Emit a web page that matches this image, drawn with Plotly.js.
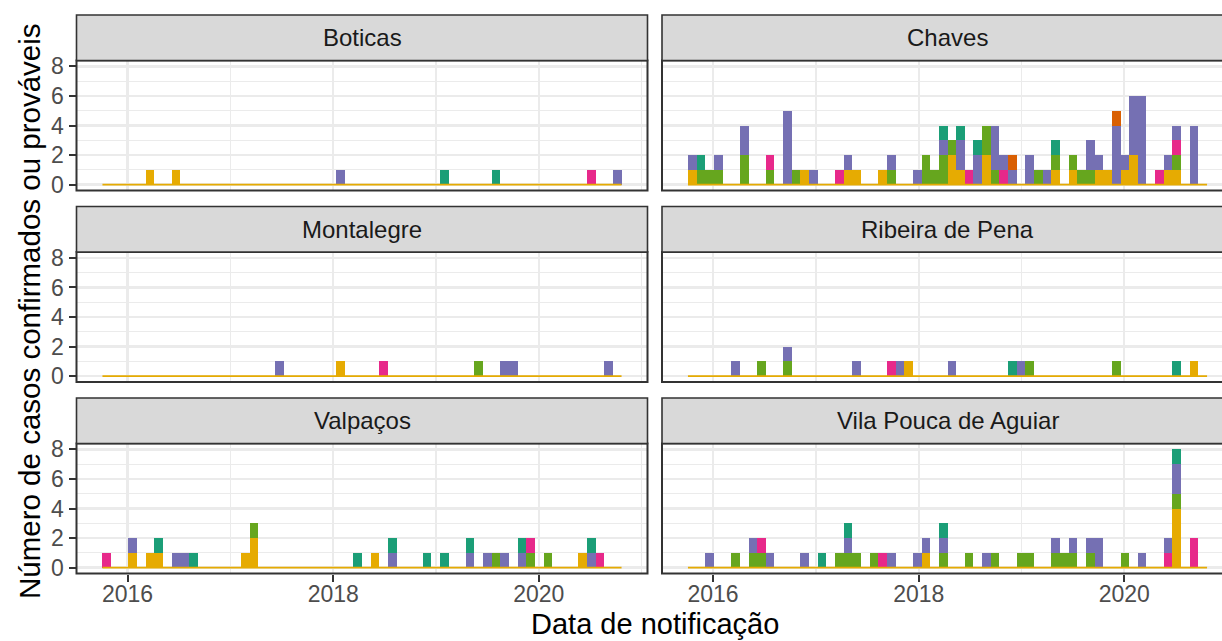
<!DOCTYPE html>
<html><head><meta charset="utf-8">
<script src="https://cdn.plot.ly/plotly-3.0.1.min.js"></script>
<style>html,body{margin:0;padding:0;background:#fff}#chart{width:1222px;height:641px}</style>
</head><body><div id="chart"></div>
<script>
// Histogram bins (60 equal-width bins over the notification period)
const binFirstStart = "2015-10-04";
const binLastEnd = "2020-10-21";
const binCount = 60;

// Stack order bottom -> top
const categories = ["Categoria 6", "Categoria 5", "Categoria 4", "Categoria 3", "Categoria 2", "Categoria 1"];
const categoryColors = ["#E6AB02", "#66A61E", "#E7298A", "#7570B3", "#D95F02", "#1B9E77"];

const municipalities = ["Boticas", "Chaves", "Montalegre", "Ribeira de Pena", "Valpaços", "Vila Pouca de Aguiar"];

// rows: [bin index, cat6(yellow), cat5(green), cat4(pink), cat3(purple), cat2(orange), cat1(teal)]
const boticas = [[5,1,0,0,0,0,0],[8,1,0,0,0,0,0],[27,0,0,0,1,0,0],[39,0,0,0,0,0,1],[45,0,0,0,0,0,1],[56,0,0,1,0,0,0],[59,0,0,0,1,0,0]];
const chaves = [[0,1,0,0,1,0,0],[1,0,1,0,0,0,1],[2,0,1,0,0,0,0],[3,0,1,0,1,0,0],[6,0,2,0,2,0,0],[9,0,1,1,0,0,0],[11,0,0,0,5,0,0],[12,0,1,0,0,0,0],[13,1,0,0,0,0,0],[14,0,0,0,1,0,0],[17,0,0,1,0,0,0],[18,1,0,0,1,0,0],[19,1,0,0,0,0,0],[22,1,0,0,0,0,0],[23,0,1,0,1,0,0],[26,0,0,0,1,0,0],[27,0,2,0,0,0,0],[28,0,1,0,0,0,0],[29,0,2,0,1,0,1],[30,2,1,0,0,0,0],[31,1,0,0,2,0,1],[32,0,0,1,0,0,0],[33,0,0,0,2,0,1],[34,2,2,0,0,0,0],[35,0,1,0,3,0,0],[36,0,0,1,1,0,0],[37,0,0,0,1,1,0],[39,0,0,0,2,0,0],[40,0,1,0,0,0,0],[41,0,0,0,1,0,0],[42,1,1,0,0,0,1],[44,1,1,0,0,0,0],[45,0,1,0,0,0,0],[46,0,1,0,2,0,0],[47,1,0,0,1,0,0],[48,1,0,0,0,0,0],[49,0,0,0,4,1,0],[50,1,0,0,1,0,0],[51,2,0,0,4,0,0],[52,0,0,0,6,0,0],[54,0,0,1,0,0,0],[55,1,0,0,1,0,0],[56,1,1,1,1,0,0],[58,0,0,0,4,0,0]];
const montalegre = [[20,0,0,0,1,0,0],[27,1,0,0,0,0,0],[32,0,0,1,0,0,0],[43,0,1,0,0,0,0],[46,0,0,0,1,0,0],[47,0,0,0,1,0,0],[58,0,0,0,1,0,0]];
const ribeiraDePena = [[5,0,0,0,1,0,0],[8,0,1,0,0,0,0],[11,0,1,0,1,0,0],[19,0,0,0,1,0,0],[23,0,0,1,0,0,0],[24,0,0,0,1,0,0],[25,1,0,0,0,0,0],[30,0,0,0,1,0,0],[37,0,0,0,0,0,1],[38,0,0,0,1,0,0],[39,0,1,0,0,0,0],[49,0,1,0,0,0,0],[56,0,0,0,0,0,1],[58,1,0,0,0,0,0]];
const valpacos = [[0,0,0,1,0,0,0],[3,1,0,0,1,0,0],[5,1,0,0,0,0,0],[6,1,0,0,0,0,1],[8,0,0,0,1,0,0],[9,0,0,0,1,0,0],[10,0,0,0,0,0,1],[16,1,0,0,0,0,0],[17,2,1,0,0,0,0],[29,0,0,0,0,0,1],[31,1,0,0,0,0,0],[33,0,0,0,1,0,1],[37,0,0,0,0,0,1],[39,0,0,0,0,0,1],[42,0,0,0,1,0,1],[44,0,0,0,1,0,0],[45,0,1,0,0,0,0],[46,0,0,0,1,0,0],[48,0,0,0,1,0,1],[49,0,1,1,0,0,0],[51,0,1,0,0,0,0],[55,1,0,0,0,0,0],[56,0,0,0,1,0,1],[57,0,0,1,0,0,0]];
const vilaPoucaDeAguiar = [[2,0,0,0,1,0,0],[5,0,1,0,0,0,0],[7,0,1,0,1,0,0],[8,0,1,1,0,0,0],[9,0,0,0,1,0,0],[13,0,0,0,1,0,0],[15,0,0,0,0,0,1],[17,0,1,0,0,0,0],[18,0,1,0,1,0,1],[19,0,1,0,0,0,0],[21,0,1,0,0,0,0],[22,0,0,1,0,0,0],[23,0,0,0,1,0,0],[26,0,0,0,1,0,0],[27,1,0,0,1,0,0],[29,0,1,0,1,0,1],[32,0,1,0,0,0,0],[34,0,0,0,1,0,0],[35,0,1,0,0,0,0],[38,0,1,0,0,0,0],[39,0,1,0,0,0,0],[42,0,1,0,1,0,0],[43,0,1,0,0,0,0],[44,0,1,0,1,0,0],[46,0,1,0,1,0,0],[47,0,0,0,2,0,0],[50,0,1,0,0,0,0],[52,0,0,0,1,0,0],[55,0,0,1,1,0,0],[56,4,1,0,2,0,1],[58,0,0,2,0,0,0]];

const yTickVals = [0, 2, 4, 6, 8];
const xTitle = "Data de notificação";
const yTitle = "Número de casos confirmados ou prováveis";

// ---------- layout geometry (px) ----------
const W = 1222, H = 641;
const colX = [[76.5, 647.5], [662, 1233]];
const rowY = [[60.5, 190.5], [252, 382], [443.5, 573.5]];
const stripH = 45.5;
const FONT = "Liberation Sans, Arial, Helvetica, sans-serif";

const panelData = [boticas, chaves, montalegre, ribeiraDePena, valpacos, vilaPoucaDeAguiar];

const t0 = Date.parse(binFirstStart + "T00:00:00Z");
const t1 = Date.parse(binLastEnd + "T00:00:00Z");
const binMs = (t1 - t0) / binCount;
function iso(ms) { return new Date(ms).toISOString().replace("T", " ").replace("Z", "").slice(0, 19); }
const pad = 0.05 * (t1 - t0);
const fullStart = t0 - pad, fullEnd = t1 + pad;

const traces = [];
const layout = {
  width: W, height: H, margin: {l: 0, r: 0, t: 0, b: 0},
  paper_bgcolor: "#fff", plot_bgcolor: "#fff",
  showlegend: false, barmode: "stack", bargap: 0,
  font: {family: FONT},
  shapes: [], annotations: []
};

municipalities.forEach((name, i) => {
  const row = Math.floor(i / 2), col = i % 2;
  const ax = i + 1;
  const xa = "x" + (ax === 1 ? "" : ax), ya = "y" + (ax === 1 ? "" : ax);
  const [px0, px1] = colX[col];
  const [py0, py1] = rowY[row];
  const visEnd = Math.min(px1, W);
  const rangeEnd = fullStart + (fullEnd - fullStart) * (visEnd - px0) / (px1 - px0);
  const bottom = row === 2, left = col === 0;

  layout["xaxis" + (ax === 1 ? "" : ax)] = {
    type: "date", anchor: ya, domain: [px0 / W, visEnd / W],
    range: [iso(fullStart), iso(rangeEnd)],
    tick0: "2016-01-01", dtick: "M24", tickformat: "%Y",
    showgrid: true, gridcolor: "#EBEBEB", gridwidth: 2.2,
    minor: {tick0: "2015-01-01", dtick: "M12", showgrid: true, gridcolor: "#EBEBEB", gridwidth: 1.1},
    zeroline: false, showline: false,
    showticklabels: bottom, ticks: bottom ? "outside" : "", ticklen: 7, tickwidth: 2, tickcolor: "#333333",
    ticklabelstandoff: -7,
    tickfont: {family: FONT, size: 23, color: "#4D4D4D"}, fixedrange: true
  };
  layout["yaxis" + (ax === 1 ? "" : ax)] = {
    anchor: xa, domain: [1 - py1 / H, 1 - py0 / H],
    range: [-0.4, 8.4], tickmode: "array", tickvals: yTickVals,
    showgrid: true, gridcolor: "#EBEBEB", gridwidth: 2.2,
    minor: {tick0: 0, dtick: 1, showgrid: true, gridcolor: "#EBEBEB", gridwidth: 1.1},
    zeroline: false, showline: false,
    showticklabels: left, ticks: left ? "outside" : "", ticklen: 7, tickwidth: 2, tickcolor: "#333333",
    tickfont: {family: FONT, size: 23, color: "#4D4D4D"}, fixedrange: true
  };

  // zero baseline of the histogram
  traces.push({type: "scatter", mode: "lines", x: [iso(t0), iso(t1)], y: [0, 0],
    xaxis: xa, yaxis: ya, line: {color: "#E6AB02", width: 1.6}, hoverinfo: "skip"});

  const rows = panelData[i];
  categories.forEach((cat, c) => {
    const xs = [], ys = [];
    rows.forEach(r => { if (r[c + 1] > 0) { xs.push(iso(t0 + (r[0] + 0.5) * binMs)); ys.push(r[c + 1]); } });
    if (xs.length) traces.push({type: "bar", name: cat, x: xs, y: ys, width: binMs,
      xaxis: xa, yaxis: ya, marker: {color: categoryColors[c], line: {width: 0}}});
  });

  // panel border
  layout.shapes.push({type: "rect", xref: "paper", yref: "paper",
    x0: px0 / W, x1: px1 / W, y0: 1 - py1 / H, y1: 1 - py0 / H,
    line: {color: "#333333", width: 2}, fillcolor: "rgba(0,0,0,0)", layer: "above"});
  // strip
  layout.shapes.push({type: "rect", xref: "paper", yref: "paper",
    x0: px0 / W, x1: px1 / W, y0: 1 - py0 / H, y1: 1 - (py0 - stripH) / H,
    line: {color: "#333333", width: 1.6}, fillcolor: "#D9D9D9", layer: "above"});
  layout.annotations.push({xref: "paper", yref: "paper", x: (px0 + px1) / 2 / W, y: 1 - (py0 - stripH / 2) / H,
    text: name, showarrow: false, xanchor: "center", yanchor: "middle",
    font: {family: FONT, size: 24, color: "#1A1A1A"}});
});

layout.annotations.push({xref: "paper", yref: "paper", x: (colX[0][0] + colX[1][1]) / 2 / W, y: 1 - 624 / H,
  text: xTitle, showarrow: false, xanchor: "center", yanchor: "middle",
  font: {family: FONT, size: 29, color: "#000"}});
layout.annotations.push({xref: "paper", yref: "paper", x: 29 / W, y: 1 - 311 / H,
  text: yTitle, showarrow: false, xanchor: "center", yanchor: "middle", textangle: -90,
  font: {family: FONT, size: 29.5, color: "#000"}});

Plotly.newPlot("chart", traces, layout, {staticPlot: true, displayModeBar: false});
</script>
</body></html>
